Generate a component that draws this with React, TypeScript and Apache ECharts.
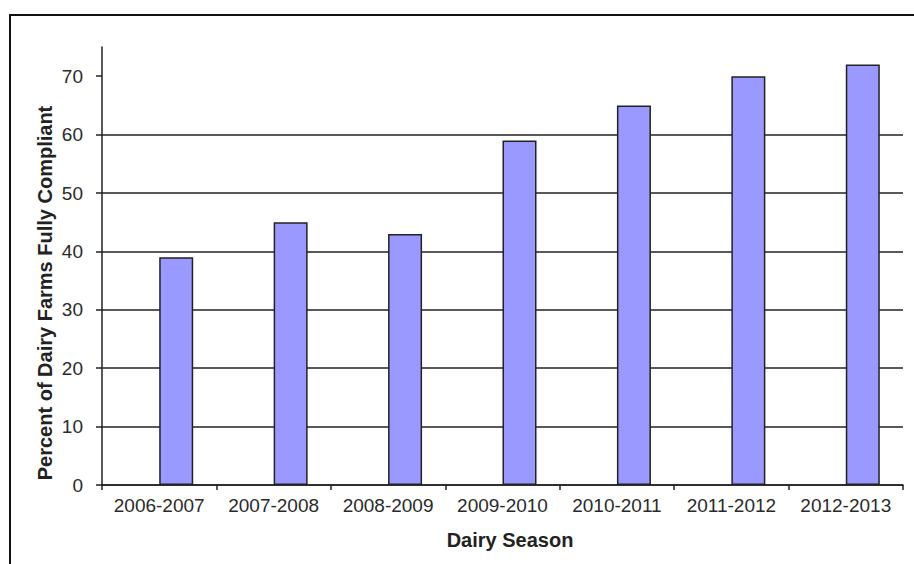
import React, { useEffect, useRef } from "react";
import * as echarts from "echarts";

const categories = ["2006-2007", "2007-2008", "2008-2009", "2009-2010", "2010-2011", "2011-2012", "2012-2013"];
const compliantValues = [39, 45, 43, 59, 65, 70, 72];
const emptySeries = ["-", "-", "-", "-", "-", "-", "-"];
const yTickValues = [0, 10, 20, 30, 40, 50, 60, 70];
const yRange = { min: 0, max: 75, interval: 10 };
const yTitle = "Percent of Dairy Farms Fully Compliant";
const xTitle = "Dairy Season";

export default function App() {
  const ref = useRef<HTMLDivElement>(null);
  useEffect(() => {
    if (!ref.current) return;
    const chart = echarts.init(ref.current, null, { renderer: "svg" });
    const font = "'Liberation Sans', Arial, sans-serif";
    chart.setOption({
      animation: false,
      backgroundColor: "#fff",
      grid: { left: 102, right: 11, top: 47, bottom: 79, containLabel: false },
      xAxis: {
        type: "category",
        data: categories,
        boundaryGap: true,
        axisLine: { show: true, lineStyle: { color: "#222", width: 1.5 } },
        axisTick: { show: true, interval: 0, alignWithLabel: false, length: 5, lineStyle: { color: "#222", width: 1.5 } },
        axisLabel: { color: "#2a2a2a", fontSize: 19, fontFamily: font, margin: 11, interval: 0, hideOverlap: false },
        splitLine: { show: false },
      },
      yAxis: {
        type: "value",
        min: yRange.min,
        max: yRange.max,
        interval: yRange.interval,
        axisLine: { show: true, lineStyle: { color: "#222", width: 1.5 } },
        axisTick: { show: true, length: 6, customValues: yTickValues, lineStyle: { color: "#222", width: 1.5 } },
        axisLabel: {
          color: "#2a2a2a",
          fontSize: 19,
          fontFamily: font,
          margin: 19,
          customValues: yTickValues,
        },
        splitLine: { show: true, showMaxLine: false, lineStyle: { color: "#222", width: 1.5 } },
      },
      series: [
        {
          type: "bar",
          data: emptySeries,
          barWidth: 34,
          barGap: "0%",
          silent: true,
        },
        {
          type: "bar",
          data: compliantValues,
          barWidth: 34,
          barGap: "0%",
          itemStyle: { color: "#9999FF", borderColor: "#222", borderWidth: 1.5 },
        },
      ],
      graphic: [
        {
          type: "rect",
          shape: { x: 10, y: 15, width: 1000, height: 1000 },
          style: { fill: "none", stroke: "#111", lineWidth: 2 },
          silent: true,
        },
        {
          type: "text",
          x: 45,
          y: 293,
          rotation: Math.PI / 2,
          style: {
            text: yTitle,
            fontSize: 20,
            fontWeight: "bold",
            fontFamily: font,
            fill: "#222",
            align: "center",
            verticalAlign: "middle",
          },
        },
        {
          type: "text",
          x: 510,
          y: 540,
          style: {
            text: xTitle,
            fontSize: 20,
            fontWeight: "bold",
            fontFamily: font,
            fill: "#222",
            align: "center",
            verticalAlign: "middle",
          },
        },
      ],
    });
    return () => chart.dispose();
  }, []);
  return <div ref={ref} style={{ width: 914, height: 564, position: "fixed", left: 0, top: 0 }} />;
}
